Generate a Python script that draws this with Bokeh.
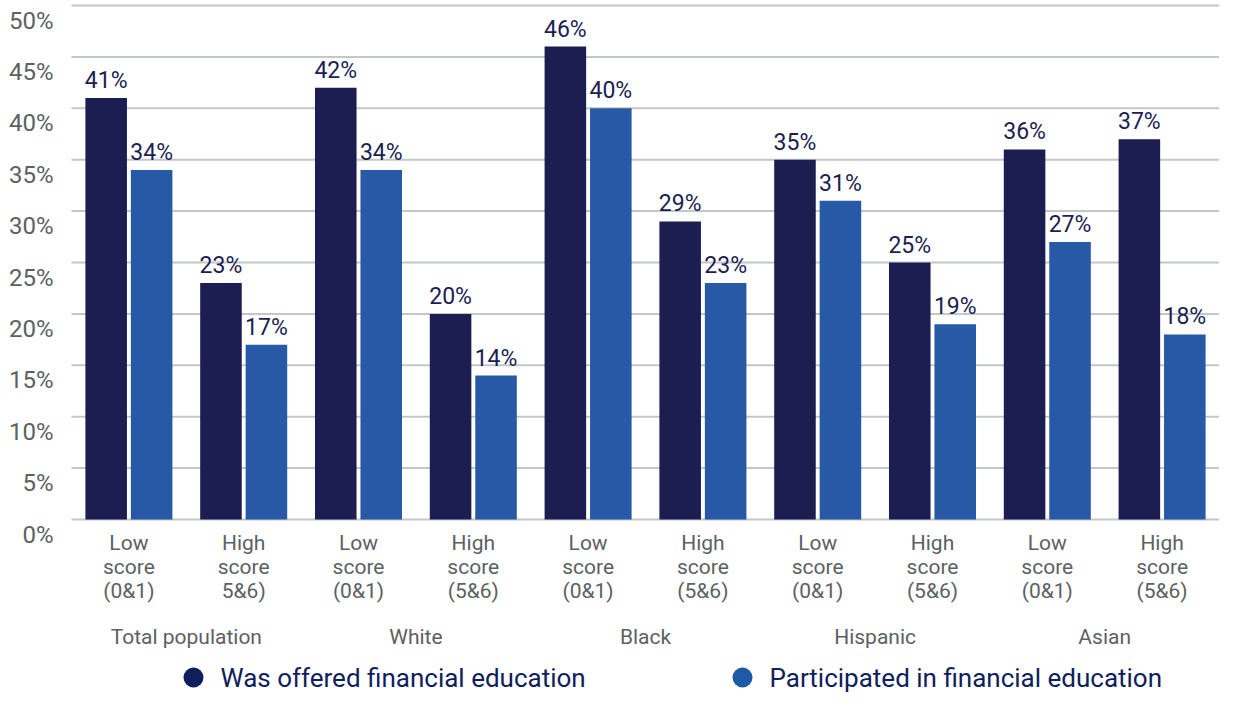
from bokeh.plotting import figure
from bokeh.models import Range1d, ColumnDataSource
from bokeh.core.properties import value
from bokeh.embed import file_html
from bokeh.resources import INLINE

# ---------------- data ----------------
groups = ["Total population", "White", "Black", "Hispanic", "Asian"]
sub_labels = [
    "Low\nscore\n(0&1)", "High\nscore\n5&6)",
    "Low\nscore\n(0&1)", "High\nscore\n(5&6)",
    "Low\nscore\n(0&1)", "High\nscore\n(5&6)",
    "Low\nscore\n(0&1)", "High\nscore\n(5&6)",
    "Low\nscore\n(0&1)", "High\nscore\n(5&6)",
]
offered = [41, 23, 42, 20, 46, 29, 35, 25, 36, 37]
participated = [34, 17, 34, 14, 40, 23, 31, 19, 27, 18]
series_names = ["Was offered financial education", "Participated in financial education"]
y_ticks = [0, 5, 10, 15, 20, 25, 30, 35, 40, 45, 50]
y_tick_labels = ["0%", "5%", "10%", "15%", "20%", "25%", "30%", "35%", "40%", "45%", "50%"]

# ---------------- styling / layout ----------------
NAVY = "#1c1e52"
BLUE = "#2759a7"
LEG_NAVY = "#0f1e5c"
LEG_BLUE = "#1f5aa8"
GRAY_TXT = "#5c6163"
GRID = "#c3c7c7"
FONT = "Roboto"

W, H = 1219, 697
LEFT_PX = 71                      # where the plotting area begins
SLOT = (W - LEFT_PX) / 10.0       # px per subcategory slot
ZERO_PX = 519                     # canvas y of 0%
TOP_PX = 5                        # canvas y of 50%
PPU = (ZERO_PX - TOP_PX) / 50.0   # px per percent


def px_x(px):
    return (px - LEFT_PX) / SLOT


def dy(px):
    return px / PPU


p = figure(
    width=W, height=H,
    x_range=Range1d(px_x(0), 10),
    y_range=Range1d(-(H - ZERO_PX) / PPU, 50 + TOP_PX / PPU),
    x_axis_type=None, y_axis_type=None,
    toolbar_location=None, output_backend="svg",
    min_border=0, min_border_left=0, min_border_right=0,
    min_border_top=0, min_border_bottom=0,
)
p.outline_line_color = None
p.grid.visible = False
p.background_fill_color = "white"
p.border_fill_color = "white"

n = len(offered)
idx = list(range(n))
x_off = [i + 0.302 for i in idx]
x_par = [i + 0.698 for i in idx]
BW = 0.362

# gridlines
p.segment(x0=[0] * len(y_ticks), x1=[10] * len(y_ticks), y0=y_ticks, y1=y_ticks,
          line_color=GRID, line_width=2)

# bars
p.vbar(x=x_off, top=offered, bottom=0, width=BW, fill_color=NAVY, line_color=None)
p.vbar(x=x_par, top=participated, bottom=0, width=BW, fill_color=BLUE, line_color=None)

# value labels
lab_src = ColumnDataSource(dict(
    x=x_off + x_par,
    y=[v + dy(4) for v in offered + participated],
    t=[f"{v}%" for v in offered + participated],
))
p.text(x="x", y="y", text="t", source=lab_src, text_align="center",
       text_baseline="bottom", text_font=value(FONT), text_font_size="23px",
       text_color=NAVY)

# y tick labels
p.text(x=[px_x(53)] * len(y_ticks), y=[t - dy(1) for t in y_ticks], text=y_tick_labels,
       text_align="right", text_baseline="top", text_font=value(FONT),
       text_font_size="24px", text_color=GRAY_TXT)

# subcategory labels (three lines each)
sx, sy, st = [], [], []
for i, lab in enumerate(sub_labels):
    for j, line in enumerate(lab.split("\n")):
        sx.append(i + 0.5)
        sy.append(-dy(23 + 24 * j))
        st.append(line)
p.text(x=sx, y=sy, text=st, text_align="center", text_baseline="middle",
       text_font=value(FONT), text_font_size="21px", text_color=GRAY_TXT)

# group labels
p.text(x=[2 * k + 1 for k in range(len(groups))], y=[-dy(117)] * len(groups), text=groups,
       text_align="center", text_baseline="middle", text_font=value(FONT),
       text_font_size="21px", text_color=GRAY_TXT)

# legend
leg_x = [px_x(193), px_x(742)]
leg_y = [-dy(158)] * 2
p.scatter(x=leg_x, y=leg_y, size=20, marker="circle",
          fill_color=[LEG_NAVY, LEG_BLUE], line_color=None)
p.text(x=[x + 27 / SLOT for x in leg_x], y=leg_y, text=series_names,
       text_align="left", text_baseline="middle", text_font=value(FONT),
       text_font_size="26px", text_color=LEG_NAVY)

open("out.html", "w").write(file_html(p, INLINE))
